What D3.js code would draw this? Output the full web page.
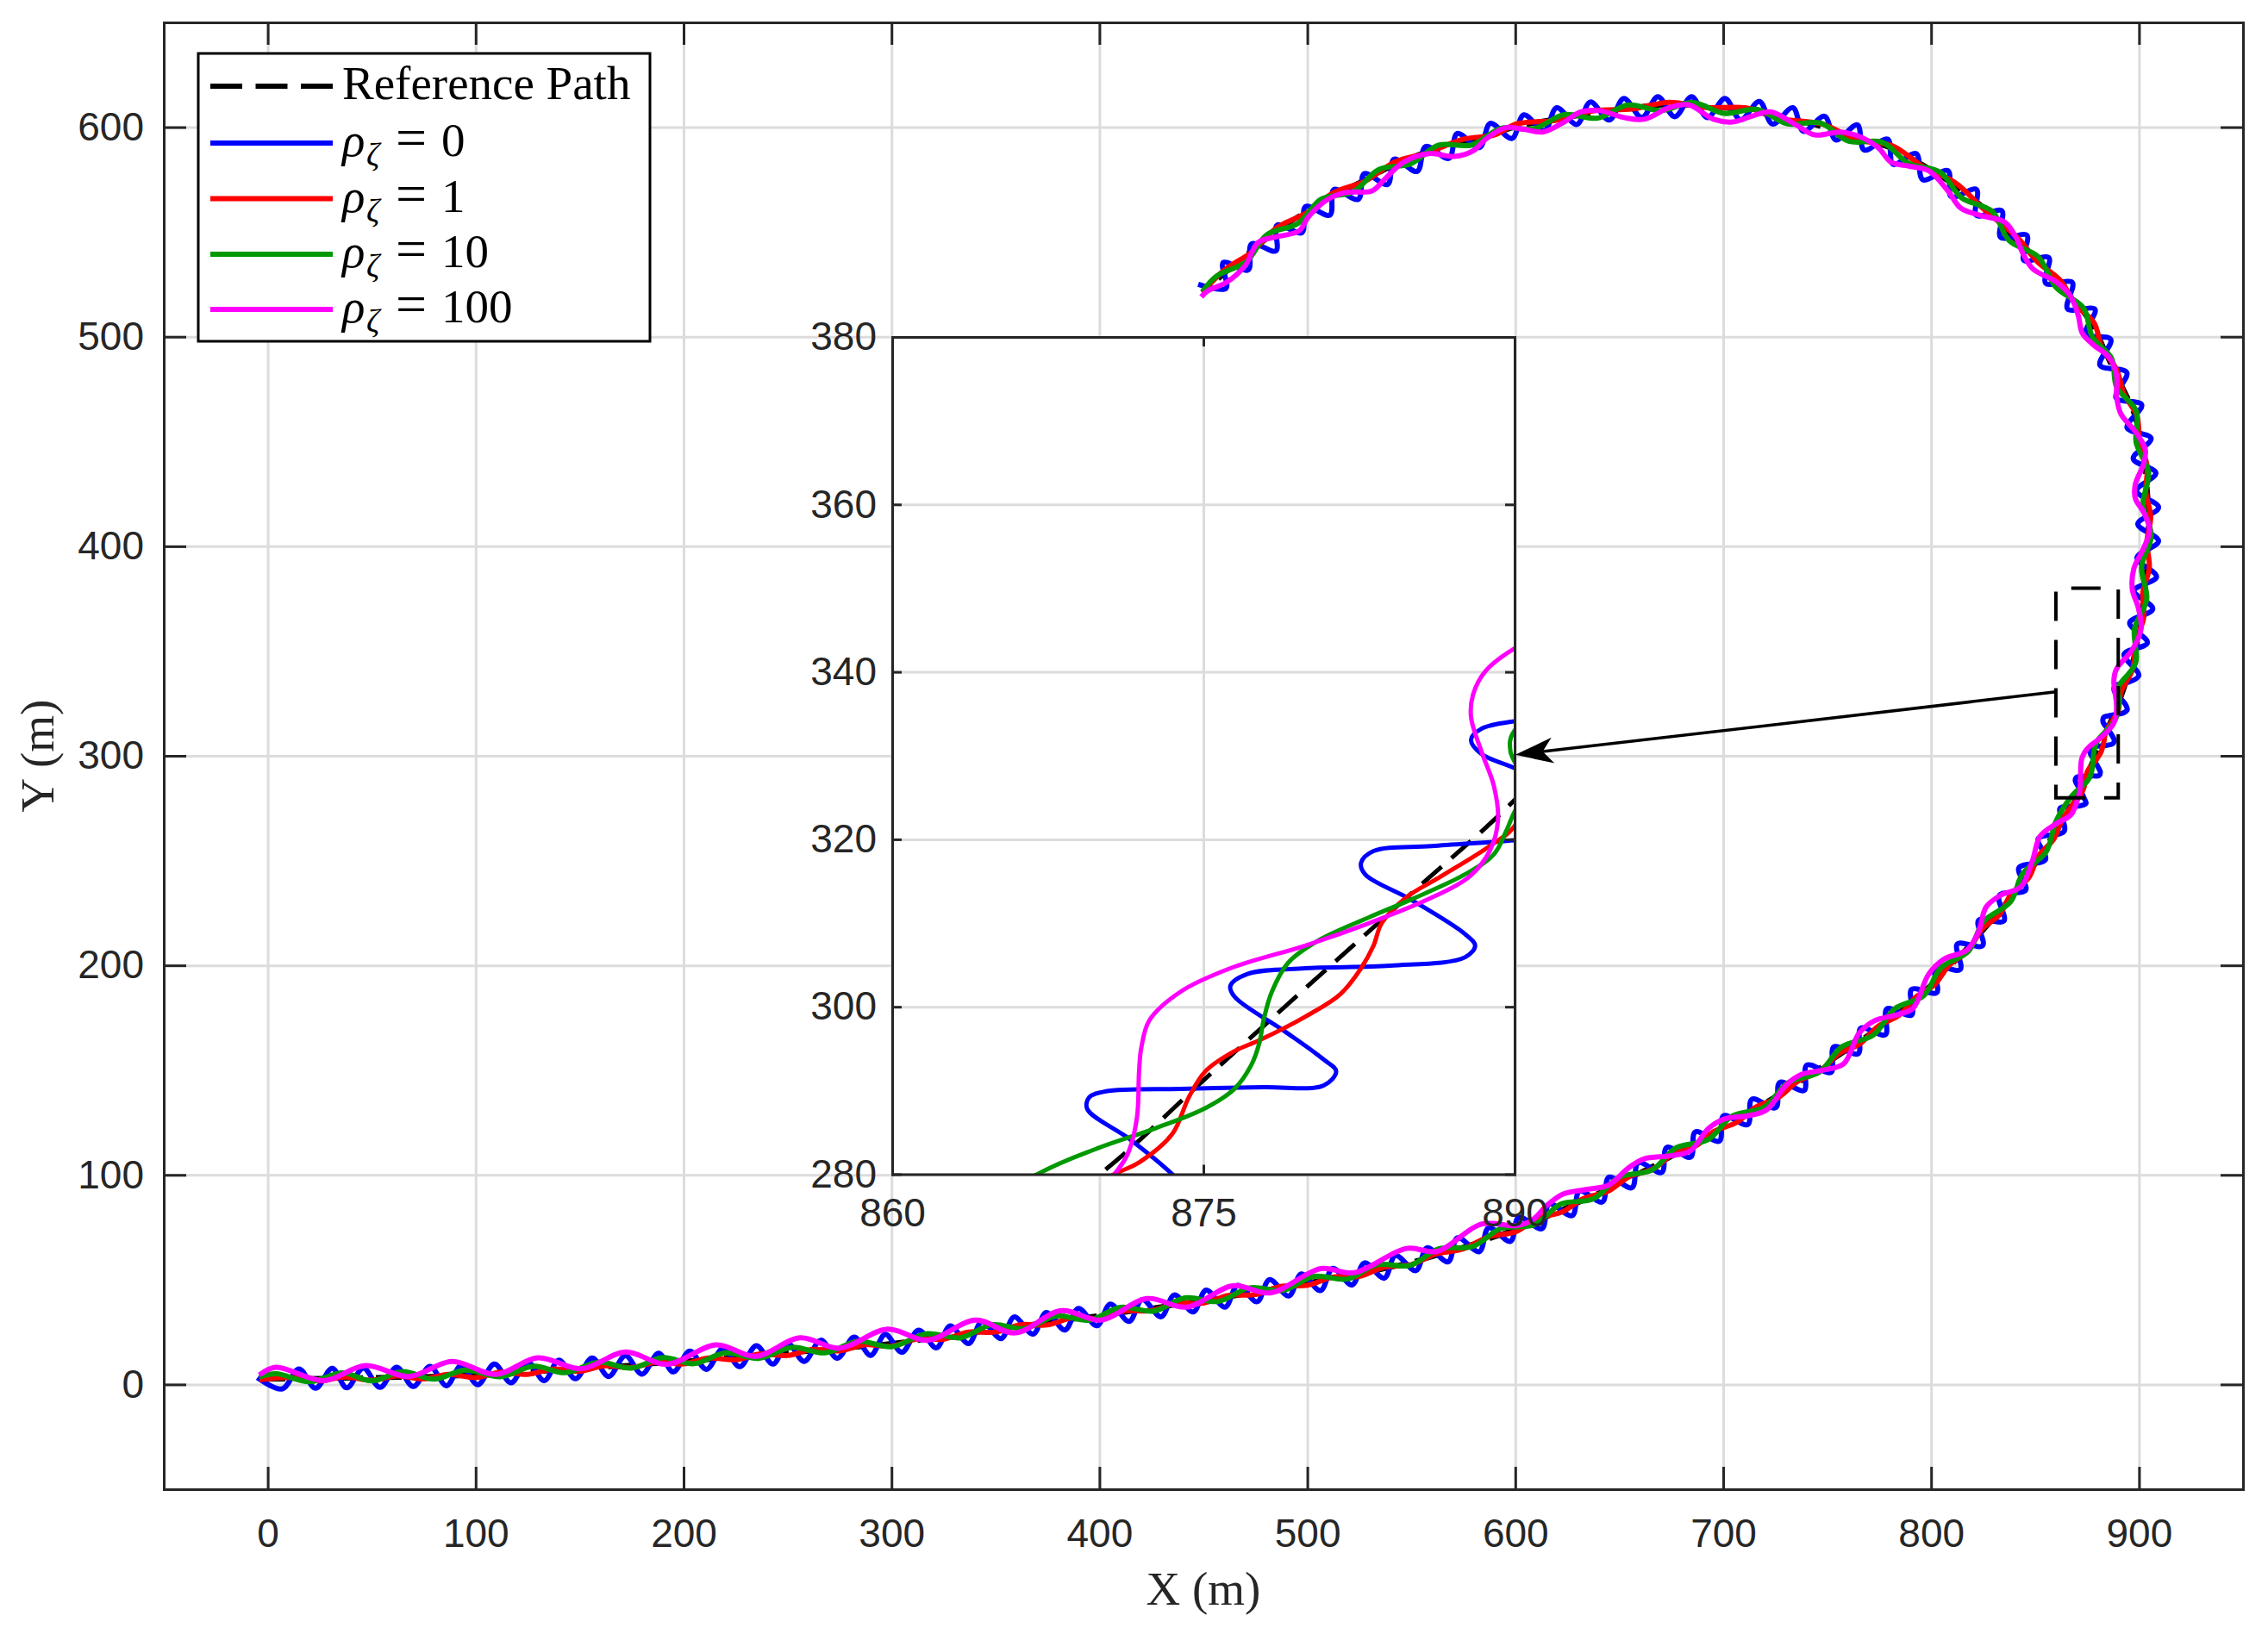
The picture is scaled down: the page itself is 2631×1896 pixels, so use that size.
<!DOCTYPE html>
<html>
<head>
<meta charset="utf-8">
<title>Trajectories</title>
<script src="https://cdn.jsdelivr.net/npm/d3@7/dist/d3.min.js"></script>
<style>
  body { margin: 0; background: #fff; }
  .axis .domain, .axis .tick line { stroke: #262626; stroke-width: 3; }
  .axis .domain { stroke-linecap: square; }
  .axis text { fill: #262626; font-family: "Liberation Sans", Arial, sans-serif; font-size: 46px; }
  .grid .domain { display: none; }
  .grid .tick line { stroke: #dcdcdc; stroke-width: 3; }
</style>
</head>
<body>
<div id="chart"></div>
<script>
// ---- values (metres) ----
const xTicks = [0, 100, 200, 300, 400, 500, 600, 700, 800, 900];
const yTicks = [0, 100, 200, 300, 400, 500, 600];
const insetXTicks = [860, 875, 890];
const insetYTicks = [280, 300, 320, 340, 360, 380];
const rhoValues = [0, 1, 10, 100];

const refPath = [[-4,2.5],[50,3.2],[100,4.5],[150,7.5],[200,11],[250,15],[300,19.5],[338,24.5],[370,29],[400,32.8],[433,37.5],[465,42.3],[500,48.5],[529,53.5],[560,61],[600,74],[634,88.5],[662,102],[680,111.5],[699,122],[717,132.5],[736,144],[754,156],[773,169],[791,182.5],[806,196.5],[819,210],[832,225],[845,241],[856,258],[864,270],[870,280],[875,291.2],[880,302.4],[885,313.5],[890,324.7],[894,336],[897.5,347],[900.3,361],[902.3,376],[903.7,389],[904.4,403],[904.4,420],[903,436],[901,450],[897,465],[891,478],[885,490],[878,505],[869,517],[857,531],[841,546],[826,561],[811,572.4],[796,582],[781,590],[765,594.5],[747,600.4],[729,604.5],[711,608],[692,610],[674,610.7],[656,609.3],[638,606.6],[619,603.8],[601,600.4],[590,597],[575,593],[558,588.5],[543,582.5],[528,575],[513,567.5],[500,560],[486,551],[473,541],[461,531],[449.5,521]];

const rho0 = [[-5,3.2],[7,-2.1],[15,7.4],[23,-1.8],[31,7.7],[38,-1.6],[46,7.8],[54,-1.4],[62,8.2],[70,-1.0],[78,8.6],[86,-0.6],[93,9.0],[101,-0.1],[109,9.7],[117,0.8],[125,10.7],[133,1.8],[140,11.6],[148,2.7],[156,12.6],[164,3.8],[172,13.7],[180,4.9],[188,14.9],[195,6.0],[203,15.9],[211,7.2],[219,17.2],[227,8.5],[235,18.5],[243,9.7],[250,19.7],[258,11.0],[266,21.1],[274,12.5],[282,22.6],[290,13.9],[297,23.9],[305,15.4],[313,25.9],[321.6,17.5],[328.2,27.9],[337.1,19.5],[343.5,30.0],[352.7,21.9],[359.0,32.2],[368.1,24.0],[374.4,34.3],[383.4,26.0],[389.9,36.3],[398.8,28.0],[405.2,38.3],[414.3,30.1],[420.6,40.5],[429.7,32.3],[436,42.7],[445.1,34.6],[451.3,45.0],[460.4,36.9],[466.5,47.3],[475.8,39.5],[481.8,50.0],[491.1,42.2],[497.1,52.7],[506.3,44.8],[512.3,55.4],[521.5,47.5],[527.5,58.0],[537,50.7],[542.4,61.5],[552.2,54.3],[557.6,65.2],[567.7,58.5],[572.2,70.0],[582.7,63.4],[587.2,74.8],[597.7,68.3],[601.7,79.8],[612.8,74.3],[616.3,86.1],[627.4,80.6],[630.9,92.3],[641.9,87.1],[645.0,98.9],[656.1,93.9],[659.2,105.8],[670.4,101.2],[672.9,113.1],[684.3,108.5],[686.6,120.5],[698.1,116.1],[700.2,128.2],[711.8,124.0],[713.8,136.1],[725.3,132.1],[727.2,144.1],[738.9,140.3],[740.2,152.4],[751.9,149.0],[753.2,161.1],[764.9,157.8],[766.2,170.0],[778.0,166.9],[778.7,179.2],[790.6,176.3],[790.6,188.5],[802.7,187.0],[802.0,199.1],[814.0,198.0],[812.6,210.2],[824.8,209.4],[822.8,221.5],[835.0,221.2],[832.8,233.4],[845.5,236],[842.2,246.5],[855,250.5],[851.5,260.5],[864,264],[862,275],[867,275.8],[872,276.2],[874.5,277.3],[873.5,280],[871.5,284.1],[869.4,287.8],[869.5,289.2],[870.3,289.9],[873.9,290.2],[877.9,290.4],[880.8,290.6],[881.4,292.3],[880.8,293.7],[878.9,297.1],[876.5,301.2],[876.3,302.5],[877.1,303.9],[879.9,304.6],[884.0,304.9],[887.6,305.9],[888.1,307.3],[887.6,308.7],[885.0,312.8],[882.8,315.8],[882.6,317.2],[883.2,318.6],[886.0,319.2],[890.0,319.9],[892.8,320.6],[894.3,322.0],[893.5,324.5],[890.0,328.5],[888.4,330.2],[887.9,331.9],[888.4,333.2],[890.0,334.1],[894,334.8],[899.9,338.3],[892.8,348.5],[904,353.9],[895.5,363.5],[906.6,370.1],[897.6,378.8],[908.4,385.4],[899.0,394.5],[909.4,402.5],[899.4,410.6],[909.4,418.6],[898.8,426.4],[908.1,435.0],[897.2,441.8],[905.8,451.5],[894.2,456.6],[901.3,467.5],[888.9,470.9],[894.1,482.9],[881.2,486.4],[886.4,498.7],[874.3,501.2],[878.8,513.1],[865.6,513.3],[867.9,525.9],[855.1,525.5],[856.6,537.8],[844.6,536.4],[846.1,548.4],[833.4,547.4],[834.0,560.1],[821.8,557.9],[821.8,570.3],[809.7,566.8],[808.1,579.2],[796,574.9],[792.8,587.4],[781.7,582.3],[779.1,594.3],[767.8,589.1],[764.5,601.1],[754.2,593.9],[748.7,605.2],[738.6,598.0],[733.5,609.3],[723.7,601.5],[717.4,612.3],[708.3,603.5],[700.9,613.7],[692.4,604.6],[684.8,614.5],[676.7,605.0],[668.6,614.5],[660.9,604.6],[652.2,613.7],[645.2,603.4],[636.1,612.0],[629.6,601.3],[619.9,609.3],[614,598.3],[604.1,605.9],[598.4,594.6],[588.0,601.8],[582.8,590.3],[572.1,597.0],[568.1,585.1],[556.9,590.8],[552.8,578.9],[541.7,584.7],[538.6,572.7],[527.4,577.8],[524.5,565.6],[512.8,570.3],[510.8,558.0],[499.1,562.1],[497.4,549.7],[485.4,553.2],[484.9,541.0],[473.2,544.3],[471.5,531.9],[459.5,535.4],[460.9,523.1],[447.5,525]];

const rho1 = [[-4,2.2],[12,3.3],[25,1.7],[37,3.6],[50,2.0],[62,4.1],[75,2.65],[87,4.8],[100,3.3],[112,5.8],[125,4.8],[137,7.3],[150,6.3],[162,8.9],[175,8.05],[187,10.7],[200,9.8],[212,12.6],[225,11.8],[237,14.6],[250,13.8],[262,16.7],[275,16.05],[287,18.9],[300,18.3],[312,21.7],[325,21.6],[337,25.0],[350,25.0],[362,28.5],[375,28.4],[387,31.8],[400,31.6],[412,35.1],[425,35.2],[437,38.7],[450,38.8],[462,42.5],[475,42.9],[487,46.8],[500,47.3],[512,51.2],[525,51.6],[537,56.0],[550,57.2],[562,62.3],[575,64.7],[587,70.4],[600,72.8],[610.8,79.3],[622.5,82.3],[632.8,88.7],[644.5,92.2],[654.7,99.1],[666.6,103.0],[675.7,109.9],[686.6,113.7],[695.7,120.8],[706.6,125.1],[715.7,132.4],[726.6,137.0],[735.7,144.5],[746.7,149.7],[755.7,157.9],[765.7,162.5],[774.6,171.0],[784.7,176.3],[792.6,184.8],[801.8,190.9],[808.6,200.0],[817.9,207.1],[824.5,217.3],[832.9,224.2],[838.5,234.0],[847.0,241.9],[851.5,252.1],[859.0,260.3],[863.5,270.3],[870.7,280],[871.9,281.4],[873.5,284.8],[874.3,289.2],[875.1,292.3],[876.5,294.7],[877.7,296.0],[879.9,298.8],[881.6,301.5],[882.6,304.6],[883.2,307.3],[883.6,310.0],[884.8,313.1],[886.4,315.5],[888.8,319.2],[890.0,321.6],[891.3,330.2],[897.0,341.6],[898.3,354.1],[902.2,365.8],[901.9,378.1],[904.95,389.9],[903.75,402],[905.6,414],[903.3,426],[903.9,438.2],[900.4,449.9],[898.9,462.4],[892.8,472.7],[889.1,484.5],[882.2,494.7],[878.3,506.7],[869.3,515.6],[862.2,526.8],[851.3,535.6],[841.9,546.9],[825.6,560.6],[811.7,573.4],[795.7,581.5],[781.4,591.1],[764.8,593.9],[747.3,601.6],[728.9,603.9],[711.2,609.2],[692,609.4],[674,611.9],[656.1,608.7],[637.8,607.8],[619.1,603.2],[600.7,601.6],[590.2,596.4],[574.7,594.2],[558.2,587.9],[542.5,583.6],[528.3,574.5],[512.4,568.6],[500.3,559.5],[485.3,552.0],[473.4,540.5],[460.2,531.9],[449.5,521.2]];

const rho10 = [[-4,3.5],[4,5.1],[20,1.3],[36,5.5],[50,1.7],[65,6.1],[80,2.5],[95,6.9],[112,3.7],[128,8.7],[143,5.6],[159,10.6],[175,7.8],[190,12.8],[205,9.9],[220,15.1],[236,12.4],[252,17.7],[268,15.1],[284,20.6],[300,18.0],[317,24.2],[333.2,22.3],[348.2,28.5],[364.2,26.7],[379.2,32.7],[395.2,30.7],[410.1,36.8],[426.2,35.0],[441.1,41.3],[457.2,39.6],[472.1,46.1],[488.3,44.9],[503.1,51.6],[519.3,50.3],[533.4,57.1],[549.4,56.8],[563.2,64.7],[579.5,65.8],[593.2,74.5],[609.1,76.2],[622.0,86.1],[637.6,88.6],[649.9,98.9],[665.7,102.3],[677.3,112.9],[692.7,116.8],[704.2,128.0],[719.8,132.4],[731.2,144.0],[746.3,149.1],[757.1,161.2],[772.3,166.8],[782.5,179.3],[796.5,185.6],[804.7,198.8],[818.1,206.9],[825.1,220.8],[838.2,230.3],[844.0,243.8],[855.3,254.1],[859.9,268.4],[867.0,280],[869.9,283.1],[872.7,285.5],[875.1,287.9],[876.5,290.2],[877.3,293.0],[877.7,295.7],[877.9,298.4],[878.3,301.8],[879.1,305.3],[880.6,308.0],[883.0,310.7],[885.0,312.8],[887.6,315.8],[889.0,318.2],[889.6,321.0],[890.0,323.3],[890.6,325.5],[890.4,327.5],[889.8,330.5],[890.0,333.0],[898.4,344.5],[897.8,360.5],[903.7,374.8],[901.2,390.1],[905.9,405],[901.9,419.9],[904.6,435.2],[898.6,449.5],[898.7,464.5],[889.2,476.0],[886.8,489.7],[877.6,499.9],[873.2,513.9],[860.2,523.4],[851.6,538.1],[837.5,545.9],[829.4,559.8],[814.7,566.3],[804.3,578.5],[789.0,582.9],[776.5,592.8],[760.4,593.3],[746.7,602.0],[730.7,601.6],[716.4,608.5],[700.5,606.6],[685.4,611.8],[670.0,607.9],[654.2,610.6],[639.5,604.3],[623.5,606.0],[609.0,599.3],[593.1,599.5],[579.1,591.5],[563.1,591.4],[549.8,582.6],[534.2,579.7],[522.2,569.3],[506.6,565.6],[495.5,554.1],[480.4,548.6],[470.8,535.9],[456.3,528.9],[449.5,521.5]];

const rho100 = [[-4,4.5],[3.8,8.2],[27,1.8],[47,9],[68,3.8],[88.6,11],[109.7,4.8],[129.9,12.7],[151,7.5],[172,15.5],[192,9.6],[215.7,18.9],[234.7,13.4],[256,22.3],[275,17.3],[298,26.4],[317.5,21.1],[340.3,30.7],[359.4,24.6],[381.6,35.2],[400.6,30.7],[422.9,41.0],[441.9,36.9],[464.1,47.1],[482.1,43.7],[506.5,55.3],[522.3,53.3],[547.7,64.9],[562.4,63.5],[583.7,76.5],[600.6,75.8],[608,78.3],[615.4,85.6],[622.8,90.8],[633.9,93],[645,95.2],[654.3,103.2],[661.7,107.6],[674.6,109.1],[683.9,111.3],[693.1,122.3],[700.6,126.7],[711.7,128.2],[720.9,131.1],[730.2,142.8],[737.6,147.9],[748.7,150.1],[758,153.1],[765.4,167.7],[772.8,173.6],[783.9,176.5],[791.3,179.5],[798.7,195.6],[806.1,202.9],[817.2,207.3],[822.8,216.1],[826.5,227.9],[833.9,233.7],[843.1,237.4],[848.7,249.9],[852.4,261.6],[859.8,267.4],[867.2,271.8],[870.9,280.6],[871.4,282.7],[871.8,286.8],[871.9,292.3],[872,295],[872.4,298.4],[873.9,301.8],[876.3,304.6],[879.9,307.3],[883,310],[885.8,312.8],[887.8,315.5],[888.8,318.6],[889.2,322.3],[889,326.4],[888.4,330.5],[887.9,334.6],[888,337.3],[888.6,340.1],[890,342.8],[896.8,350.7],[901.0,360.7],[899.6,370.8],[896.8,379.2],[897.5,389.3],[902.3,399.3],[905.1,407.7],[902.3,416.1],[898.2,422.8],[898.2,429.5],[902.3,439.6],[903.0,446.3],[898.2,454.7],[891.3,463.1],[889.2,471.5],[889.2,481.5],[885.8,489.9],[877.5,496.6],[872.7,501.7],[870.8,510],[867,519.5],[860,526.3],[849,532.3],[844,540],[841,547],[835.5,554.6],[823.3,558.0],[814.2,561.4],[808.1,569.6],[798.9,579.2],[789.8,581.3],[780.7,583.3],[774.6,590.2],[765.4,595.6],[756.3,597.7],[744.1,596.3],[735.0,601.1],[722.8,607.3],[713.7,605.2],[704.6,602.5],[695.4,603.8],[683.3,610.7],[674.1,609.3],[661.9,603.8],[652.8,604.5],[640.6,607.9],[631.5,607.3],[622.4,601.8],[613.2,597.7],[604.1,599.0],[595.0,599.7],[585.8,594.3],[579.8,588.8],[570.6,586.0],[558.4,587.4],[546.3,583.3],[537.1,575.1],[531.1,569.6],[518.9,568.9],[509.7,565.5],[500.6,557.3],[496.0,550.5],[485.4,547.7],[476.3,545.0],[470.2,534.1],[461.0,525.9],[451.9,521.8],[449,519]];

// zoom window and arrow, in main-axes metres
const zoomBox = { x: [860, 890], y: [280, 380] };
const arrowFrom = [860, 330.5];
const arrowTo = [600, 300.5];

class TrajectoryChart {
    constructor(_config, _series) {
        this.config = {
            parentElement: _config.parentElement,
            width: _config.width || 2631,
            height: _config.height || 1896
        };
        this.series = _series;
        this.initVis();
    }

    initVis() {
        let vis = this;
        vis.svg = d3.select(vis.config.parentElement).append('svg')
            .attr('width', vis.config.width)
            .attr('height', vis.config.height)
            .style('background', '#fff');

        // main axes (equal metres per pixel)
        vis.x = d3.scaleLinear().domain([-50, 950]).range([190, 2602]);
        vis.y = d3.scaleLinear().domain([-50, 650]).range([1728, 26]);

        // inset axes
        vis.xi = d3.scaleLinear().domain(zoomBox.x).range([1035, 1757]);
        vis.yi = d3.scaleLinear().domain(zoomBox.y).range([1362.5, 391]);
    }

    drawPanel(xs, ys, opts) {
        let vis = this;
        const [x0, x1] = xs.range();
        const [y0, y1] = ys.range();
        const g = vis.svg.append('g');

        if (opts.background) {
            g.append('rect')
                .attr('x', x0).attr('y', y1)
                .attr('width', x1 - x0).attr('height', y0 - y1)
                .attr('fill', '#fff');
        }

        // grid
        g.append('g').attr('class', 'grid')
            .attr('transform', `translate(0,${y0})`)
            .call(d3.axisBottom(xs).tickValues(opts.xTicks).tickSize(-(y0 - y1)).tickFormat(''));
        g.append('g').attr('class', 'grid')
            .attr('transform', `translate(${x0},0)`)
            .call(d3.axisLeft(ys).tickValues(opts.yTicks).tickSize(-(x1 - x0)).tickFormat(''));

        g.append('clipPath').attr('id', opts.id)
            .append('rect')
            .attr('x', x0).attr('y', y1)
            .attr('width', x1 - x0).attr('height', y0 - y1);

        const lineGen = d3.line()
            .x(d => xs(d[0]))
            .y(d => ys(d[1]))
            .curve(d3.curveCatmullRom.alpha(0.5));

        g.append('g').attr('clip-path', `url(#${opts.id})`)
            .selectAll('path')
            .data(vis.series)
            .join('path')
            .attr('d', d => lineGen(d.values))
            .attr('fill', 'none')
            .attr('stroke', d => d.color)
            .attr('stroke-width', opts.lineWidth)
            .attr('stroke-linejoin', 'round')
            .attr('stroke-dasharray', d => d.dashed ? '30,15' : null);

        // box with inward ticks on all four sides
        const tl = opts.tickLength;
        g.append('g').attr('class', 'axis')
            .attr('transform', `translate(0,${y0})`)
            .call(d3.axisBottom(xs).tickValues(opts.xTicks).tickSizeInner(-tl).tickSizeOuter(0).tickPadding(opts.xPad));
        g.append('g').attr('class', 'axis')
            .attr('transform', `translate(0,${y1})`)
            .call(d3.axisTop(xs).tickValues(opts.xTicks).tickSizeInner(-tl).tickSizeOuter(0).tickFormat(''));
        g.append('g').attr('class', 'axis')
            .attr('transform', `translate(${x0},0)`)
            .call(d3.axisLeft(ys).tickValues(opts.yTicks).tickSizeInner(-tl).tickSizeOuter(0).tickPadding(opts.yPad));
        g.append('g').attr('class', 'axis')
            .attr('transform', `translate(${x1},0)`)
            .call(d3.axisRight(ys).tickValues(opts.yTicks).tickSizeInner(-tl).tickSizeOuter(0).tickFormat(''));
        return g;
    }

    renderVis() {
        let vis = this;
        const serif = '"Liberation Serif", "Times New Roman", serif';

        vis.drawPanel(vis.x, vis.y, {
            id: 'main-clip', xTicks: xTicks, yTicks: yTicks,
            tickLength: 26, xPad: 34, yPad: 23, lineWidth: 6
        });

        // axis labels
        vis.svg.append('text')
            .attr('x', 1396).attr('y', 1862)
            .attr('text-anchor', 'middle')
            .style('font-family', serif).style('font-size', '55px').attr('fill', '#262626')
            .text('X (m)');
        vis.svg.append('text')
            .attr('transform', 'translate(62,877) rotate(-90)')
            .attr('text-anchor', 'middle')
            .style('font-family', serif).style('font-size', '55px').attr('fill', '#262626')
            .text('Y (m)');

        // legend
        const leg = vis.svg.append('g');
        leg.append('rect')
            .attr('x', 230).attr('y', 62).attr('width', 524).attr('height', 334)
            .attr('fill', '#fff').attr('stroke', '#000').attr('stroke-width', 3);
        const rowY = [100, 166, 230.5, 295, 359];
        vis.series.forEach((s, i) => {
            leg.append('line')
                .attr('x1', 244).attr('x2', 386)
                .attr('y1', rowY[i]).attr('y2', rowY[i])
                .attr('stroke', s.color).attr('stroke-width', 6)
                .attr('stroke-dasharray', s.dashed ? '37,15.5' : null);
            const t = leg.append('text')
                .attr('y', rowY[i] + 15)
                .style('font-family', serif).style('font-size', '55px').attr('fill', '#000');
            if (s.rho === undefined) {
                t.attr('x', 397).text(s.name);
            } else {
                t.append('tspan').attr('x', 397).style('font-style', 'italic').text('ρ');
                t.append('tspan').attr('x', 425).attr('dy', 11)
                    .style('font-style', 'italic').style('font-size', '38px').text('ζ');
                t.append('tspan').attr('x', 459).attr('dy', -11).style('font-size', '64px').text('=');
                t.append('tspan').attr('x', 512).text(String(s.rho));
            }
        });

        // dashed zoom window
        const bx = zoomBox.x.map(vis.x), by = zoomBox.y.map(vis.y);
        vis.svg.append('path')
            .attr('d', `M${bx[0]},${by[0]}H${bx[1]}V${by[1]}H${bx[0]}Z`)
            .attr('fill', 'none').attr('stroke', '#000')
            .attr('stroke-width', 4).attr('stroke-dasharray', '34,22');

        // inset
        vis.drawPanel(vis.xi, vis.yi, {
            id: 'inset-clip', xTicks: insetXTicks, yTicks: insetYTicks,
            tickLength: 11, xPad: 28, yPad: 18, lineWidth: 5, background: true
        });

        // arrow from the window to the inset
        const a0 = [vis.x(arrowFrom[0]), vis.y(arrowFrom[1])];
        const a1 = [vis.x(arrowTo[0]), vis.y(arrowTo[1])];
        const len = Math.hypot(a1[0] - a0[0], a1[1] - a0[1]);
        const u = [(a1[0] - a0[0]) / len, (a1[1] - a0[1]) / len];
        const p = [-u[1], u[0]];
        const headL = 44, headW = 15, notch = 32;
        const base = [a1[0] - headL * u[0], a1[1] - headL * u[1]];
        const nb = [a1[0] - notch * u[0], a1[1] - notch * u[1]];
        vis.svg.append('line')
            .attr('x1', a0[0]).attr('y1', a0[1]).attr('x2', nb[0]).attr('y2', nb[1])
            .attr('stroke', '#000').attr('stroke-width', 3.5);
        vis.svg.append('path')
            .attr('d', `M${a1[0]},${a1[1]}L${base[0] + headW * p[0]},${base[1] + headW * p[1]}` +
                `L${nb[0]},${nb[1]}L${base[0] - headW * p[0]},${base[1] - headW * p[1]}Z`)
            .attr('fill', '#000');
    }
}

const series = [
    { name: 'Reference Path', values: refPath, color: '#000000', dashed: true },
    { rho: rhoValues[0], values: rho0, color: '#0000ff' },
    { rho: rhoValues[1], values: rho1, color: '#ff0000' },
    { rho: rhoValues[2], values: rho10, color: '#009900' },
    { rho: rhoValues[3], values: rho100, color: '#ff00ff' }
];

const chart = new TrajectoryChart({ parentElement: '#chart' }, series);
chart.renderVis();
</script>
</body>
</html>
